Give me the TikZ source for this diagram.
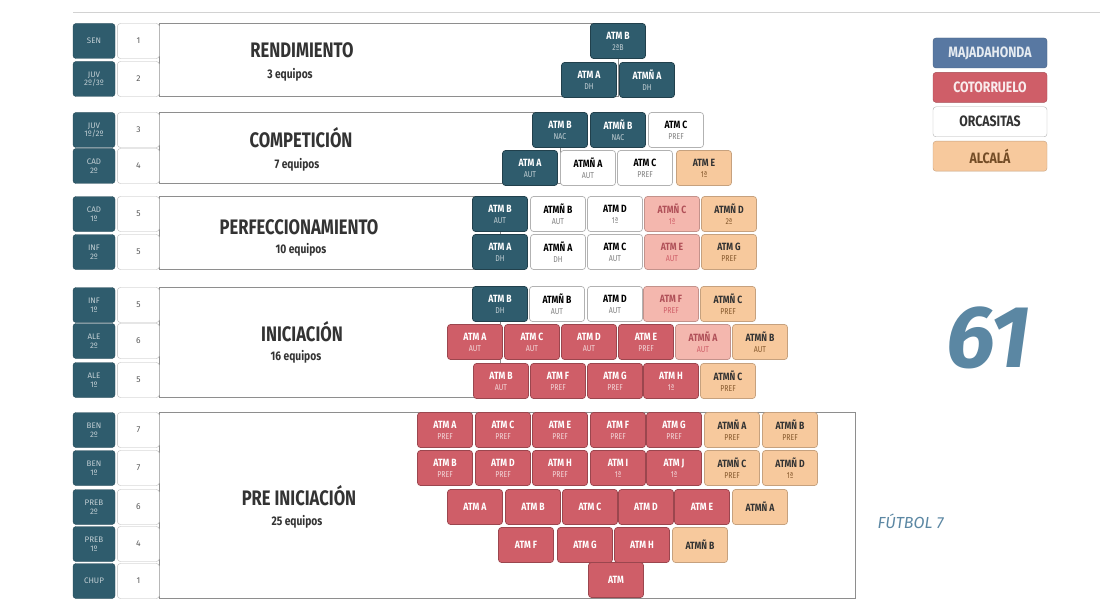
\documentclass[tikz,border=0pt]{standalone}
\usepackage{fontspec}
\setmainfont{Fira Sans}
\usetikzlibrary{positioning, backgrounds}
\definecolor{majcol}{HTML}{2F5C6D}
\definecolor{majleg}{HTML}{5878A2}
\definecolor{cotcol}{HTML}{CF5E68}
\definecolor{pnkcol}{HTML}{F4B7AE}
\definecolor{alccol}{HTML}{F7C99D}
\definecolor{grpcol}{HTML}{8E8E8E}
\definecolor{bigcol}{HTML}{5B87A3}
\definecolor{ttlcol}{HTML}{333333}
\colorlet{subtxt}{gray}
\newcommand{\cnd}[2][0.82]{\scalebox{#1}[1]{#2}}
\newcommand{\atm}[2]{{\bfseries\cnd{#1}}\\{\color{subtxt}\fontsize{8.5}{9}\selectfont\cnd{#2}}}

\begin{document}
\begin{tikzpicture}[x=1pt, y=-1pt,
  cat/.style={rectangle, rounded corners=3pt, fill=majcol, draw=majcol!80!black,
    minimum width=42pt, minimum height=35pt, inner sep=0pt, align=center,
    text=white!70!majcol, font=\fontsize{8}{8.5}\selectfont},
  num/.style={rectangle, rounded corners=3pt, fill=white, draw=gray!55,
    minimum width=42pt, minimum height=35pt, inner sep=0pt,
    text=black!65, font=\fontsize{8.5}{8.5}\selectfont},
  grp/.style={draw=grpcol, line width=1pt},
  ttl/.style={anchor=base, text=ttlcol, font=\fontsize{21}{21}\selectfont\bfseries},
  cnt/.style={anchor=base, text=ttlcol, font=\fontsize{12.5}{13}\selectfont\bfseries},
  tile/.style={rectangle, rounded corners=3pt, minimum width=55pt, minimum height=35pt,
    inner sep=0pt, align=center, line width=0.7pt, font=\fontsize{10.5}{11}\selectfont},
  maj/.style={tile, fill=majcol, draw=majcol!70!black, text=white,
    execute at begin node={\colorlet{subtxt}{white!70!majcol}}},
  cot/.style={tile, fill=cotcol, draw=cotcol!75!black, text=white,
    execute at begin node={\colorlet{subtxt}{white!75!cotcol}}},
  orc/.style={tile, fill=white, draw=gray!60, text=black,
    execute at begin node={\colorlet{subtxt}{gray}}},
  pnk/.style={tile, fill=pnkcol, draw=pnkcol!80!black, text=cotcol!85!black,
    execute at begin node={\colorlet{subtxt}{cotcol}}},
  alc/.style={tile, fill=alccol, draw=alccol!80!black, text=black!80,
    execute at begin node={\colorlet{subtxt}{brown!70!black}}},
  leg/.style={rectangle, rounded corners=3pt, minimum width=114pt, minimum height=30pt,
    inner sep=0pt, font=\fontsize{15}{15}\selectfont\bfseries}]
  \useasboundingbox (0,0) rectangle (1102,604);

  \node[cat] (c1) at (94,41) {SEN};
  \node[num, right=2pt of c1] (n1) {1};
  \node[cat] (c2) at (94,79) {JUV\\2º/3º};
  \node[num, right=2pt of c2] (n2) {2};
  \node[cat] (c3) at (94,130) {JUV\\1º/2º};
  \node[num, right=2pt of c3] (n3) {3};
  \node[cat] (c4) at (94,166) {CAD\\2º};
  \node[num, right=2pt of c4] (n4) {4};
  \node[cat] (c5) at (94,214) {CAD\\1º};
  \node[num, right=2pt of c5] (n5) {5};
  \node[cat] (c6) at (94,252) {INF\\2º};
  \node[num, right=2pt of c6] (n6) {5};
  \node[cat] (c7) at (94,305) {INF\\1º};
  \node[num, right=2pt of c7] (n7) {5};
  \node[cat] (c8) at (94,341) {ALE\\2º};
  \node[num, right=2pt of c8] (n8) {6};
  \node[cat] (c9) at (94,380) {ALE\\1º};
  \node[num, right=2pt of c9] (n9) {5};
  \node[cat] (c10) at (94,430) {BEN\\2º};
  \node[num, right=2pt of c10] (n10) {7};
  \node[cat] (c11) at (94,468) {BEN\\1º};
  \node[num, right=2pt of c11] (n11) {7};
  \node[cat] (c12) at (94,507) {PREB\\2º};
  \node[num, right=2pt of c12] (n12) {6};
  \node[cat] (c13) at (94,544) {PREB\\1º};
  \node[num, right=2pt of c13] (n13) {4};
  \node[cat] (c14) at (94,581) {CHUP};
  \node[num, right=2pt of c14] (n14) {1};

  \node[ttl] (h1) at (302,58) {\cnd[0.79]{RENDIMIENTO}};
  \node[cnt] (e1) at (290,79) {\cnd{3 equipos}};
  \node[ttl] (h2) at (301,148) {\cnd[0.79]{COMPETICIÓN}};
  \node[cnt] (e2) at (297,168) {\cnd{7 equipos}};
  \node[ttl] (h3) at (299,234) {\cnd[0.79]{PERFECCIONAMIENTO}};
  \node[cnt] (e3) at (301,253) {\cnd{10 equipos}};
  \node[ttl] (h4) at (302,341) {\cnd[0.79]{INICIACIÓN}};
  \node[cnt] (e4) at (296,360) {\cnd{16 equipos}};
  \node[ttl] (h5) at (299,505) {\cnd[0.79]{PRE INICIACIÓN}};
  \node[cnt] (e5) at (297,525) {\cnd{25 equipos}};

  \foreach \x/\s/\a/\b [count=\i] in {618/maj/ATM B/2ªB}
    \node[\s] (t1-\i) at (\x,41) {\atm{\a}{\b}};
  \foreach \x/\s/\a/\b [count=\i] in {589/maj/ATM A/DH, 647/maj/ATMÑ A/DH}
    \node[\s] (t2-\i) at (\x,80) {\atm{\a}{\b}};
  \foreach \x/\s/\a/\b [count=\i] in {560/maj/ATM B/NAC, 618/maj/ATMÑ B/NAC, 676/orc/ATM C/PREF}
    \node[\s] (t3-\i) at (\x,130) {\atm{\a}{\b}};
  \foreach \x/\s/\a/\b [count=\i] in {530/maj/ATM A/AUT, 588/orc/ATMÑ A/AUT,
      645/orc/ATM C/PREF, 704/alc/ATM E/1ª}
    \node[\s] (t4-\i) at (\x,168) {\atm{\a}{\b}};
  \foreach \x/\s/\a/\b [count=\i] in {500/maj/ATM B/AUT, 558/orc/ATMÑ B/AUT,
      615/orc/ATM D/1ª, 672/pnk/ATMÑ C/1ª, 729/alc/ATMÑ D/2ª}
    \node[\s] (t5-\i) at (\x,214) {\atm{\a}{\b}};
  \foreach \x/\s/\a/\b [count=\i] in {500/maj/ATM A/DH, 558/orc/ATMÑ A/DH,
      615/orc/ATM C/AUT, 672/pnk/ATM E/AUT, 729/alc/ATM G/PREF}
    \node[\s] (t6-\i) at (\x,252) {\atm{\a}{\b}};
  \foreach \x/\s/\a/\b [count=\i] in {500/maj/ATM B/DH, 557/orc/ATMÑ B/AUT,
      615/orc/ATM D/AUT, 671/pnk/ATM F/PREF, 728/alc/ATMÑ C/PREF}
    \node[\s] (t7-\i) at (\x,304) {\atm{\a}{\b}};
  \foreach \x/\s/\a/\b [count=\i] in {475/cot/ATM A/AUT, 532/cot/ATM C/AUT,
      589/cot/ATM D/AUT, 646/cot/ATM E/PREF, 703/pnk/ATMÑ A/AUT, 760/alc/ATMÑ B/AUT}
    \node[\s] (t8-\i) at (\x,342) {\atm{\a}{\b}};
  \foreach \x/\s/\a/\b [count=\i] in {501/cot/ATM B/AUT, 558/cot/ATM F/PREF,
      615/cot/ATM G/PREF, 671/cot/ATM H/1ª, 728/alc/ATMÑ C/PREF}
    \node[\s] (t9-\i) at (\x,381) {\atm{\a}{\b}};
  \foreach \x/\s/\a/\b [count=\i] in {445/cot/ATM A/PREF, 503/cot/ATM C/PREF,
      560/cot/ATM E/PREF, 618/cot/ATM F/PREF, 674/cot/ATM G/PREF,
      732/alc/ATMÑ A/PREF, 790/alc/ATMÑ B/PREF}
    \node[\s] (t10-\i) at (\x,430) {\atm{\a}{\b}};
  \foreach \x/\s/\a/\b [count=\i] in {445/cot/ATM B/PREF, 503/cot/ATM D/PREF,
      560/cot/ATM H/PREF, 618/cot/ATM I/1ª, 674/cot/ATM J/1ª,
      732/alc/ATMÑ C/PREF, 790/alc/ATMÑ D/1ª}
    \node[\s] (t11-\i) at (\x,468) {\atm{\a}{\b}};
  \foreach \x/\s/\a [count=\i] in {475/cot/ATM A, 533/cot/ATM B, 590/cot/ATM C,
      646/cot/ATM D, 702/cot/ATM E, 760/alc/ATMÑ A}
    \node[\s] (t12-\i) at (\x,507) {\bfseries\cnd{\a}};
  \foreach \x/\s/\a [count=\i] in {526/cot/ATM F, 585/cot/ATM G, 642/cot/ATM H, 700/alc/ATMÑ B}
    \node[\s] (t13-\i) at (\x,545) {\bfseries\cnd{\a}};
  \node[cot] (t14-1) at (616,580) {\bfseries\cnd{ATM}};

  \node[leg, fill=majleg, draw=majleg!80!black, text=white!85!majleg] (lg1) at (990,53) {\cnd{MAJADAHONDA}};
  \node[leg, fill=cotcol, draw=cotcol!80!black, text=white!88!cotcol, below=4pt of lg1] (lg2) {\cnd{COTORRUELO}};
  \node[leg, fill=white, draw=gray!60, text=black!80, below=4pt of lg2] (lg3) {\cnd{ORCASITAS}};
  \node[leg, fill=alccol, draw=alccol!80!black, text=brown!60!black, below=4pt of lg3] (lg4) {\cnd{ALCALÁ}};

  \node[text=bigcol, font=\fontsize{88}{88}\selectfont\bfseries\itshape] (tot) at (988,338) {61};
  \node[text=bigcol, anchor=base west, font=\fontsize{16}{16}\selectfont\itshape] (f7) at (874,528) {FÚTBOL 7};

  \coordinate (preR) at (855,598);
  \begin{pgfonlayer}{background}
    \fill[white] (0,0) rectangle (1102,604);
    \draw[gray!35, line width=0.6pt] (73,12) -- (1100,12);
    \draw[grp] (n1.north east) rectangle (n2.south east -| t1-1.center);
    \draw[grp] (n3.north east) rectangle (n4.south east -| t3-1.center);
    \draw[grp] (n5.north east) rectangle (n6.south east -| t5-1.center);
    \draw[grp] (n7.north east) rectangle (n9.south east -| t7-1.center);
    \draw[grp] (n10.north east) rectangle (n14.south east -| preR);
  \end{pgfonlayer}
\end{tikzpicture}
\end{document}
